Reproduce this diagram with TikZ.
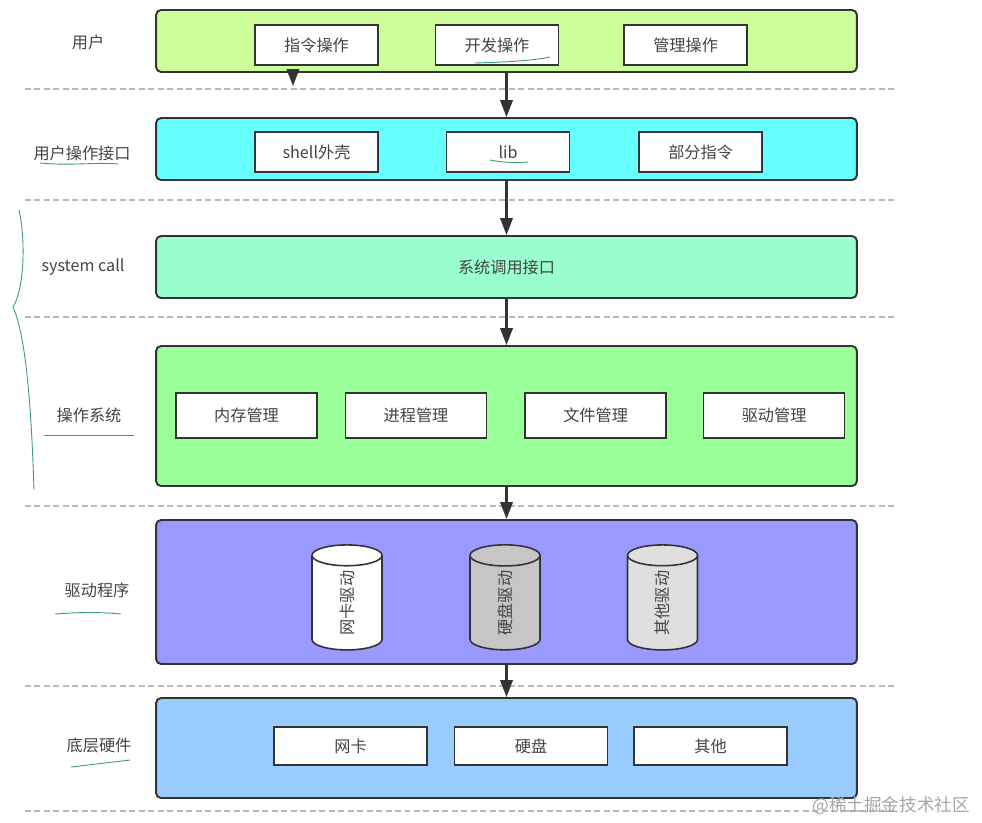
\documentclass[tikz,border=0pt]{standalone}
\usepackage{fontspec}
\setmainfont{Noto Sans CJK SC}
\usepackage{tikz}
\usetikzlibrary{arrows.meta,positioning,shapes.geometric}

\definecolor{edge}{HTML}{333333}
\definecolor{ink}{HTML}{444444}
\definecolor{pen}{HTML}{3A9A72}
\definecolor{userfill}{HTML}{CCFF99}
\definecolor{ifacefill}{HTML}{66FFFF}
\definecolor{callfill}{HTML}{99FFCC}
\definecolor{osfill}{HTML}{99FF99}
\definecolor{drvfill}{HTML}{9999FF}
\definecolor{hwfill}{HTML}{99CCFF}

\begin{document}
\begin{tikzpicture}[
    x=0.02cm, y=-0.02cm,
    font=\fontsize{9.2}{11}\selectfont,
    layer/.style={rectangle, rounded corners=0.1cm, draw=edge, line width=1.1pt,
        minimum width=14.02cm, inner sep=0pt, text=ink},
    item/.style={rectangle, draw=edge, fill=white, line width=0.9pt, text=ink,
        minimum width=2.46cm, minimum height=0.8cm, inner sep=0pt},
    drum/.style={cylinder, rotate=90, draw=edge, line width=0.9pt, text=ink,
        minimum width=1.4cm, minimum height=2.1cm, aspect=1.4, inner sep=0pt},
    tag/.style={text=ink},
    arrow/.style={-{Triangle[length=3.4mm, width=2.5mm]}, line width=1.2pt, draw=edge},
    divider/.style={draw=gray!55, dash pattern=on 3.4pt off 2pt, line width=0.7pt},
    scribble/.style={draw=pen, line width=0.5pt}
]
\useasboundingbox (0,0) rectangle (982,822);

% layers
\node[layer, fill=userfill, minimum height=1.24cm] (user) at (506.5,41) {};
\node[layer, fill=ifacefill, minimum height=1.24cm] (iface) at (506.5,149) {};
\node[layer, fill=callfill, minimum height=1.24cm] (call) at (506.5,267) {系统调用接口};
\node[layer, fill=osfill, minimum height=2.8cm] (os) at (506.5,416) {};
\node[layer, fill=drvfill, minimum height=2.88cm] (drv) at (506.5,592) {};
\node[layer, fill=hwfill, minimum height=2.0cm] (hw) at (506.5,748) {};

% row labels
\node[tag] (userlbl) at (88,42) {用户};
\node[tag] (ifacelbl) at (82,153) {用户操作接口};
\node[tag] (calllbl) at (83,267) {system call};
\node[tag] (oslbl) at (89,415) {操作系统};
\node[tag] (drvlbl) at (97,590) {驱动程序};
\node[tag] (hwlbl) at (99,745) {底层硬件};

% user
\node[item] (cmd) at (316.5,45) {指令操作};
\node[item, right=1.12cm of cmd] (dev) {开发操作};
\node[item, right=1.28cm of dev] (admin) {管理操作};

% interface
\node[item] (shell) at (316.5,152) {shell外壳};
\node[item, right=1.34cm of shell] (lib) {lib};
\node[item, right=1.36cm of lib] (part) {部分指令};

% kernel
\node[item, minimum width=2.82cm, minimum height=0.9cm] (mem) at (246.5,415.5) {内存管理};
\node[item, minimum width=2.82cm, minimum height=0.9cm, right=0.54cm of mem] (proc) {进程管理};
\node[item, minimum width=2.82cm, minimum height=0.9cm, right=0.74cm of proc] (file) {文件管理};
\node[item, minimum width=2.82cm, minimum height=0.9cm, right=0.72cm of file] (drvmgr) {驱动管理};

% drivers
\node[drum, fill=white] (nicdrv) at (347,603) {网卡驱动};
\node[drum, fill=gray!45] (diskdrv) at (505,603) {硬盘驱动};
\node[drum, fill=gray!25] (otherdrv) at (662.5,603) {其他驱动};

% hardware
\node[item, minimum width=3.06cm, minimum height=0.76cm] (nic) at (350.5,746) {网卡};
\node[item, minimum width=3.06cm, minimum height=0.76cm, right=0.52cm of nic] (disk) {硬盘};
\node[item, minimum width=3.06cm, minimum height=0.76cm, right=0.5cm of disk] (other) {其他};

% dividers
\foreach \y in {89,200,317,506,686,811}
    \draw[divider] (25,\y) -- (896,\y);

% arrows
\coordinate (stray) at (293,86);
\draw[arrow] (user.south -| stray) -- (stray);
\draw[arrow] (user.south) -- (iface.north);
\draw[arrow] (iface.south) -- (call.north);
\draw[arrow] (call.south) -- (os.north);
\draw[arrow] (os.south) -- (drv.north);
\draw[arrow] (drv.south) -- (hw.north);

% hand marks
\draw[scribble] (475,63) .. controls (505,62) and (530,61) .. (550,57);
\draw[scribble] (40,163) .. controls (70,166) and (95,162) .. (118,164);
\draw[scribble] (490,160) .. controls (505,163) and (518,163) .. (528,162);
\draw[scribble] (44,435) -- (134,435);
\draw[scribble] (55,614) .. controls (80,612) and (100,612) .. (121,614);
\draw[scribble] (71,767) -- (130,760);
\draw[scribble] (19,210) .. controls (26,240) and (24,290) .. (13,307)
    .. controls (28,340) and (32,430) .. (34,490);

\node[text=gray!70, font=\fontsize{10}{12}\selectfont, anchor=east] (mark) at (976,806) {@稀土掘金技术社区};
\end{tikzpicture}
\end{document}
